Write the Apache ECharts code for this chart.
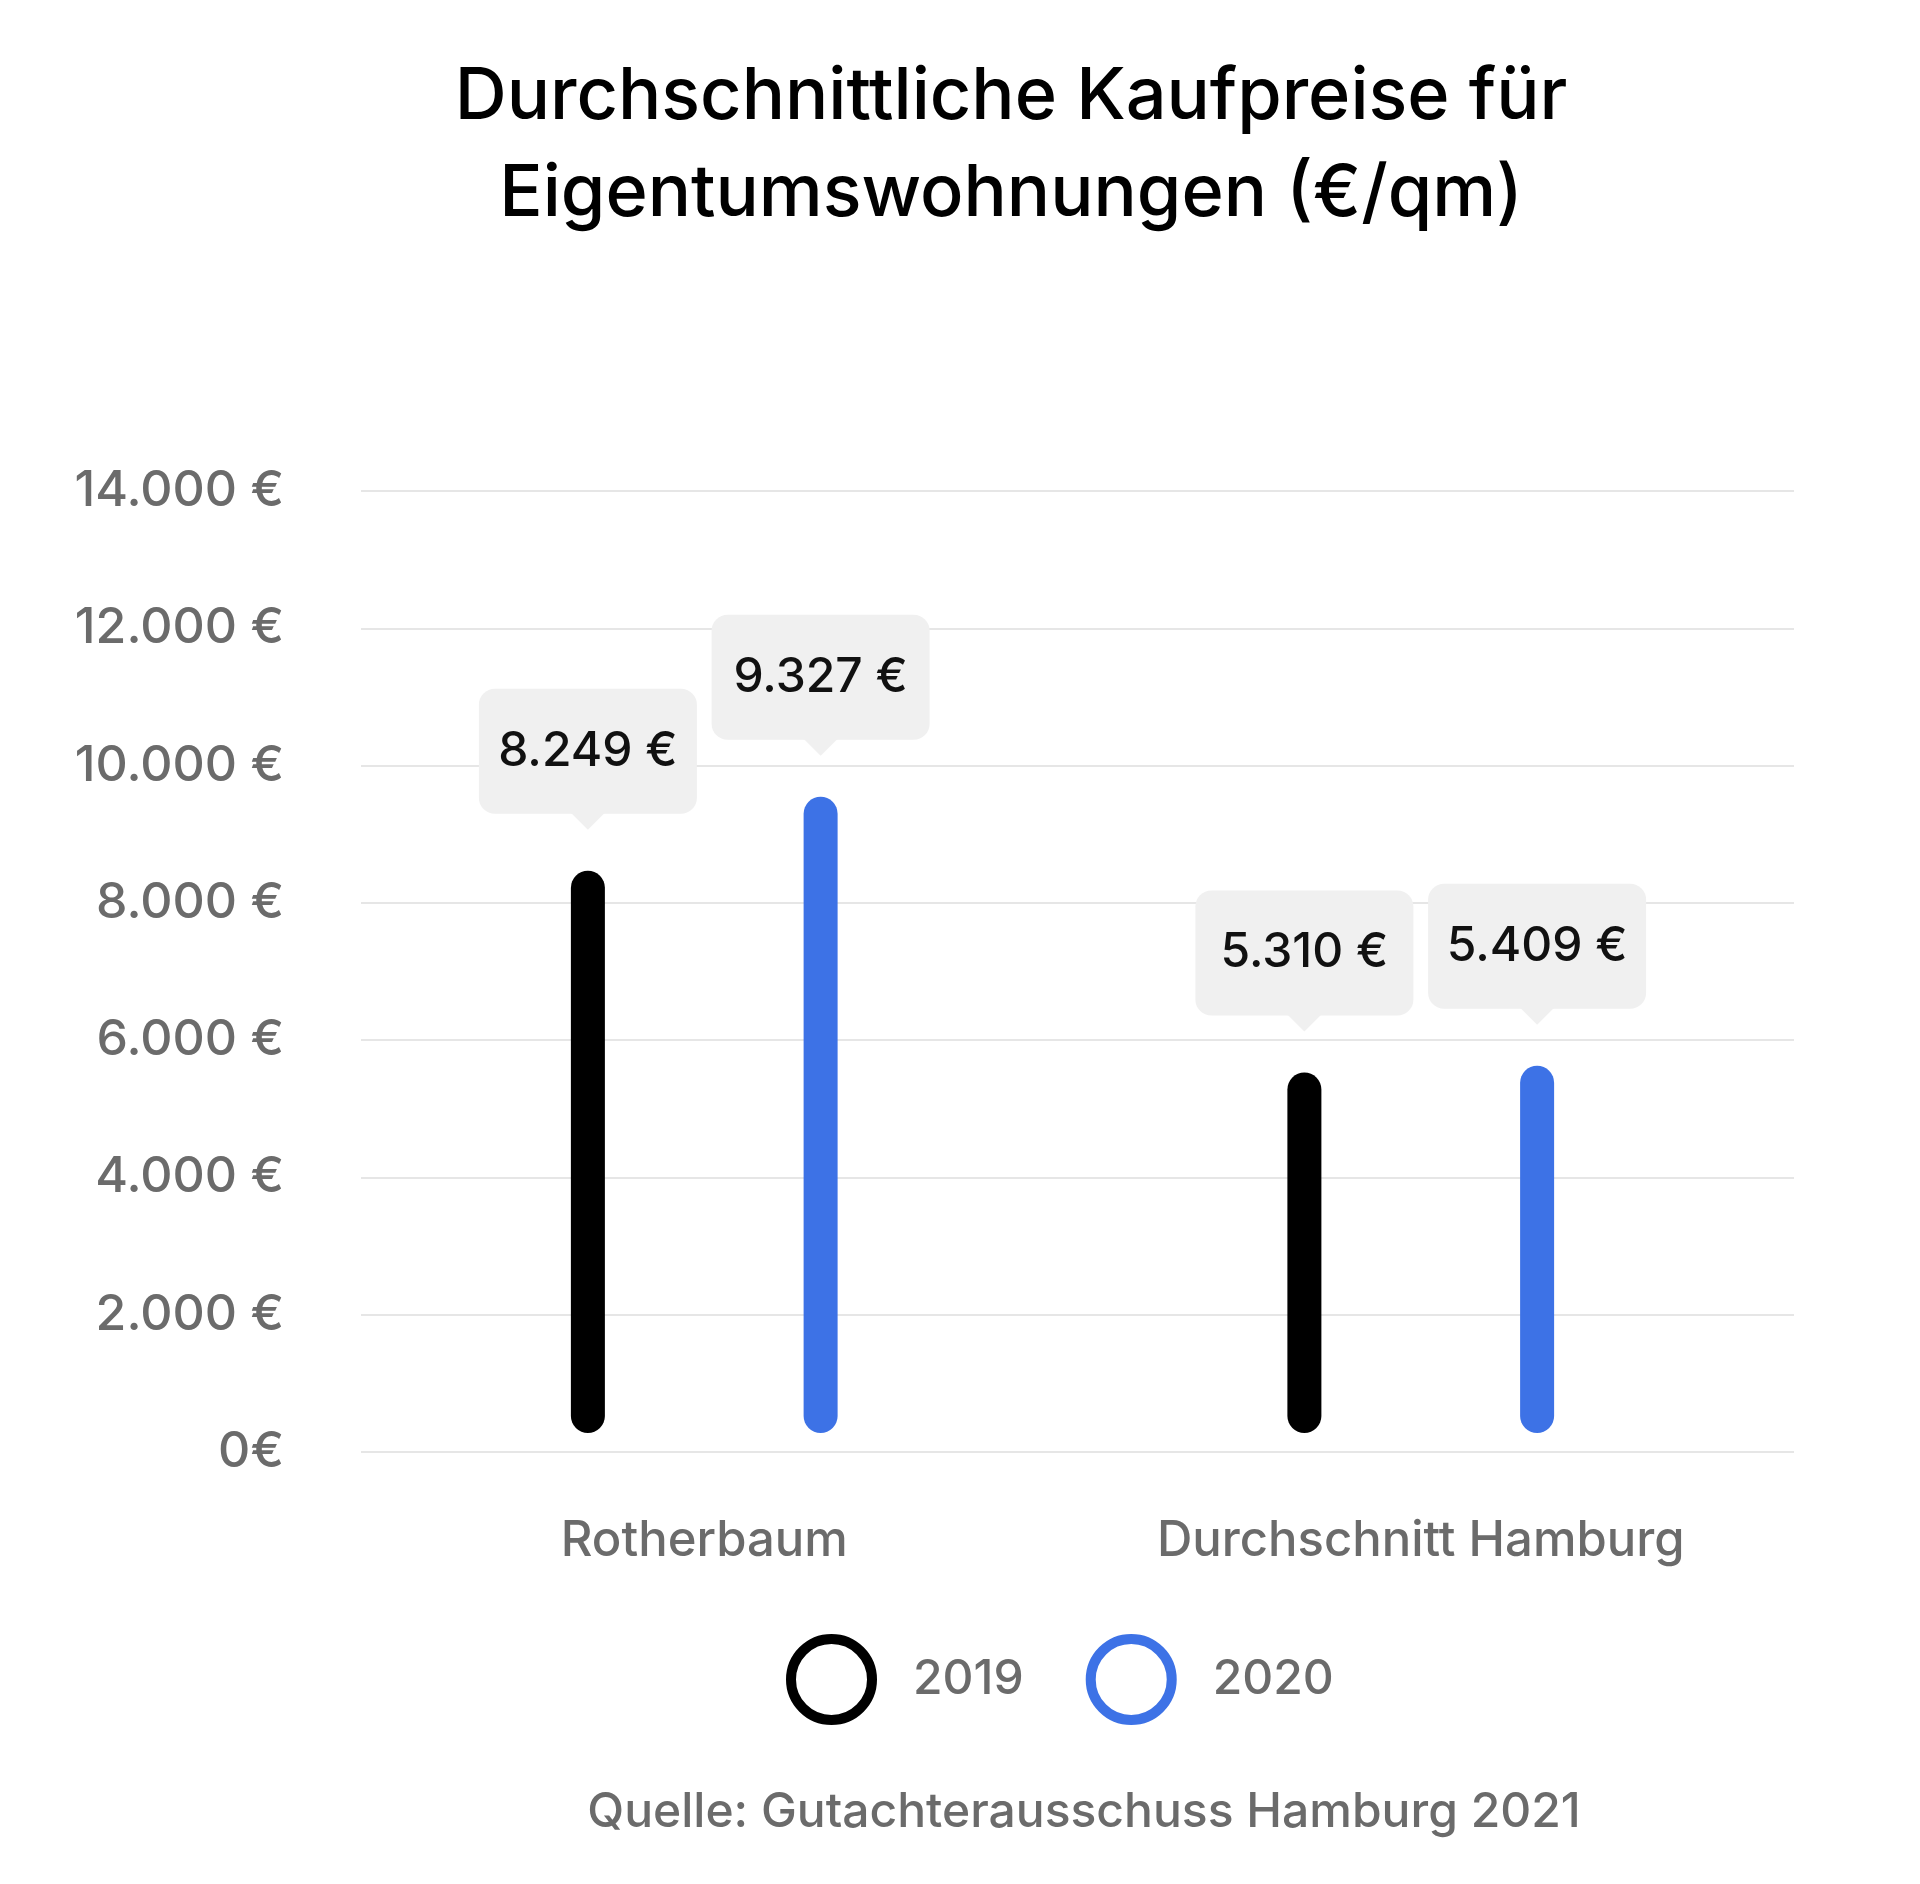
<!DOCTYPE html>
<html>
<head>
<meta charset="utf-8">
<title>Durchschnittliche Kaufpreise für Eigentumswohnungen</title>
<script src="https://cdn.jsdelivr.net/npm/echarts@6/dist/echarts.min.js"></script>
<style>
  html, body { margin: 0; padding: 0; background: #fff; }
  #chart { width: 1920px; height: 1884px; }
</style>
</head>
<body>
<div id="chart"></div>
<script>
// data
const categories = ['Rotherbaum', 'Durchschnitt Hamburg'];
const years = ['2019', '2020'];
const values2019 = [8249, 5310];
const values2020 = [9327, 5409];
const yTicks = [0, 2000, 4000, 6000, 8000, 10000, 12000, 14000];

const FONT = 'Inter';
const GREY = '#6b6b6b';
const COLORS = ['#000000', '#3d72e6'];

// 8249 -> "8.249 €"
function euro(v) {
  return String(v).replace(/\B(?=(\d{3})+(?!\d))/g, '.') + ' €';
}

const myChart = echarts.init(document.getElementById('chart'));

// bar with round caps + grey callout above it
function renderBar(params, api) {
  const idx = api.value(0);
  const val = api.value(1);
  const bandW = api.size([1, 0])[0];
  const side = params.seriesIndex === 0 ? -1 : 1;
  const pt = api.coord([idx, val]);
  const zero = api.coord([idx, 0]);
  // groups sit a little left of the band centre in the original
  const cx = pt[0] - 15 + side * bandW * 0.1624;
  const barW = 34;
  const barTop = pt[1] - 15;
  const barBottom = zero[1] - 19;
  const boxW = 218, boxH = 125;
  const boxBottom = pt[1] - 72;
  const color = api.visual('color');
  return {
    type: 'group',
    children: [
      {
        type: 'rect',
        shape: { x: cx - barW / 2, y: barTop, width: barW, height: barBottom - barTop, r: barW / 2 },
        style: { fill: color }
      },
      {
        type: 'rect',
        shape: { x: cx - boxW / 2, y: boxBottom - boxH, width: boxW, height: boxH, r: 16 },
        style: { fill: '#f0f0f0' }
      },
      {
        type: 'polygon',
        shape: { points: [[cx - 17, boxBottom - 1], [cx + 17, boxBottom - 1], [cx, boxBottom + 16]] },
        style: { fill: '#f0f0f0' }
      },
      {
        type: 'text',
        x: cx,
        y: boxBottom - boxH / 2,
        style: {
          text: euro(val),
          align: 'center',
          verticalAlign: 'middle',
          fill: '#111111',
          fontFamily: FONT,
          fontWeight: 500,
          fontSize: 48
        }
      }
    ]
  };
}

const option = {
  backgroundColor: '#ffffff',
  animation: false,
  title: [
    {
      text: 'Durchschnittliche Kaufpreise für\nEigentumswohnungen (€/qm)',
      left: 1006,
      top: 44,
      textAlign: 'center',
      textStyle: {
        fontFamily: FONT,
        fontWeight: 500,
        fontSize: 72,
        lineHeight: 97,
        color: '#000000'
      }
    },
    {
      text: 'Quelle: Gutachterausschuss Hamburg 2021',
      left: 1079,
      top: 1784,
      textAlign: 'center',
      textStyle: {
        fontFamily: FONT,
        fontWeight: 500,
        fontSize: 48,
        color: GREY
      }
    }
  ],
  legend: {
    left: 786,
    top: 1634,
    padding: 0,
    itemWidth: 81,
    itemHeight: 81,
    itemGap: 62,
    icon: 'circle',
    data: years.map((y, i) => ({
      name: y,
      itemStyle: { color: '#ffffff', borderColor: COLORS[i], borderWidth: 10 }
    })),
    textStyle: {
      fontFamily: FONT,
      fontWeight: 500,
      fontSize: 48,
      color: GREY,
      padding: [0, 0, 0, 36]
    }
  },
  grid: {
    left: 361,
    right: 126,
    top: 491,
    bottom: 432
  },
  xAxis: {
    type: 'category',
    data: categories,
    axisLine: { show: false },
    axisTick: { show: false },
    axisLabel: {
      margin: 65,
      padding: [0, 30, 0, 0],
      fontFamily: FONT,
      fontWeight: 500,
      fontSize: 49,
      color: GREY
    }
  },
  yAxis: {
    type: 'value',
    min: yTicks[0],
    max: yTicks[yTicks.length - 1],
    interval: yTicks[1] - yTicks[0],
    axisLine: { show: false },
    axisTick: { show: false },
    splitLine: { lineStyle: { color: '#e6e6e6', width: 2 } },
    axisLabel: {
      margin: 77,
      fontFamily: FONT,
      fontWeight: 500,
      fontSize: 50,
      color: GREY,
      formatter: v => (v === 0 ? '0€' : euro(v))
    }
  },
  series: [
    {
      name: years[0],
      type: 'custom',
      renderItem: renderBar,
      itemStyle: { color: COLORS[0] },
      data: values2019.map((v, i) => [i, v])
    },
    {
      name: years[1],
      type: 'custom',
      renderItem: renderBar,
      itemStyle: { color: COLORS[1] },
      data: values2020.map((v, i) => [i, v])
    }
  ]
};

myChart.setOption(option);
</script>
</body>
</html>
